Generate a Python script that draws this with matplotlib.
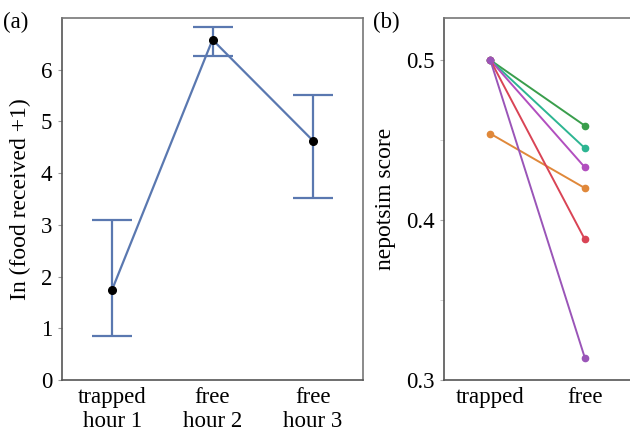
import matplotlib
matplotlib.use("Agg")
import matplotlib.pyplot as plt

plt.rcParams['font.family'] = ['Liberation Serif', 'DejaVu Serif']

# Panel (a)
cats_a = ["trapped\nhour 1", "free\nhour 2", "free\nhour 3"]
means_a = [1.75, 6.58, 4.63]
lower_a = [0.85, 6.27, 3.52]
upper_a = [3.10, 6.83, 5.52]

# Panel (b)
cats_b = ["trapped", "free"]
trapped_b = [0.500, 0.500, 0.500, 0.454, 0.500, 0.500]
free_b = [0.459, 0.445, 0.433, 0.420, 0.388, 0.314]
colors_b = ["#3a9e4c", "#2db592", "#b24fbf", "#e0883a", "#d94455", "#9a55b8"]

fig = plt.figure(figsize=(6.3, 4.37), dpi=100)
W, H = 630, 437
FS = 16.5

def box(x0, y0, x1, y1):
    return [x0 / W, 1 - y1 / H, (x1 - x0) / W, (y1 - y0) / H]

blue = "#5a78b0"
ax = fig.add_axes(box(62, 18, 363, 380))
xs = list(range(len(cats_a)))
yerr = [[m - l for m, l in zip(means_a, lower_a)], [u - m for m, u in zip(means_a, upper_a)]]
ax.errorbar(xs, means_a, yerr=yerr, color=blue, lw=1.6, capsize=14.5, capthick=1.6,
            fmt='none', zorder=2)
ax.plot(xs, means_a, color=blue, lw=1.6, zorder=2)
ax.plot(xs, means_a, 'o', color='black', ms=5.5, zorder=3)
ax.set_xlim(-0.5, 2.5)
ax.set_ylim(0, 7)
ax.set_yticks(range(0, 7))
ax.set_xticks(xs)
ax.set_xticklabels(cats_a, fontsize=FS, linespacing=1.2)
ax.tick_params(axis='y', labelsize=FS, length=3, color='#999999', pad=4)
ax.tick_params(axis='x', length=0, pad=5)
ax.set_ylabel("In (food received +1)", fontsize=17, labelpad=7)
for s in ['left', 'bottom']:
    ax.spines[s].set_color('#555555')
    ax.spines[s].set_linewidth(1.2)
for s in ['top', 'right']:
    ax.spines[s].set_color('#777777')
    ax.spines[s].set_linewidth(1.2)
fig.text(3 / W, 1 - 22 / H, "(a)", fontsize=FS, va='center', ha='left')

# Panel (b)
bx = fig.add_axes(box(444, 18, 632, 380))
for t, f, c in zip(trapped_b, free_b, colors_b):
    bx.plot([0, 1], [t, f], color=c, lw=1.4, marker='o', ms=4.5, zorder=2)
bx.set_xlim(-0.49, 1.5)
bx.set_ylim(0.3, 0.5263)
bx.set_yticks([0.3, 0.4, 0.5])
bx.set_yticklabels(["0.3", "0.4", "0.5"])
bx.set_yticks([0.35, 0.45], minor=True)
bx.set_xticks([0, 1])
bx.set_xticklabels(cats_b, fontsize=FS)
bx.tick_params(axis='y', labelsize=FS, length=3, color='#aaaaaa', pad=4)
bx.tick_params(axis='y', which='minor', length=3, color='#cccccc')
bx.tick_params(axis='x', length=0, pad=5)
bx.set_ylabel("nepotsim score", fontsize=17, labelpad=7)
for s in ['left', 'bottom']:
    bx.spines[s].set_color('#555555')
    bx.spines[s].set_linewidth(1.2)
for s in ['top', 'right']:
    bx.spines[s].set_color('#777777')
    bx.spines[s].set_linewidth(1.2)
fig.text(373 / W, 1 - 22 / H, "(b)", fontsize=FS, va='center', ha='left')

fig.savefig("out.png", dpi=100)
